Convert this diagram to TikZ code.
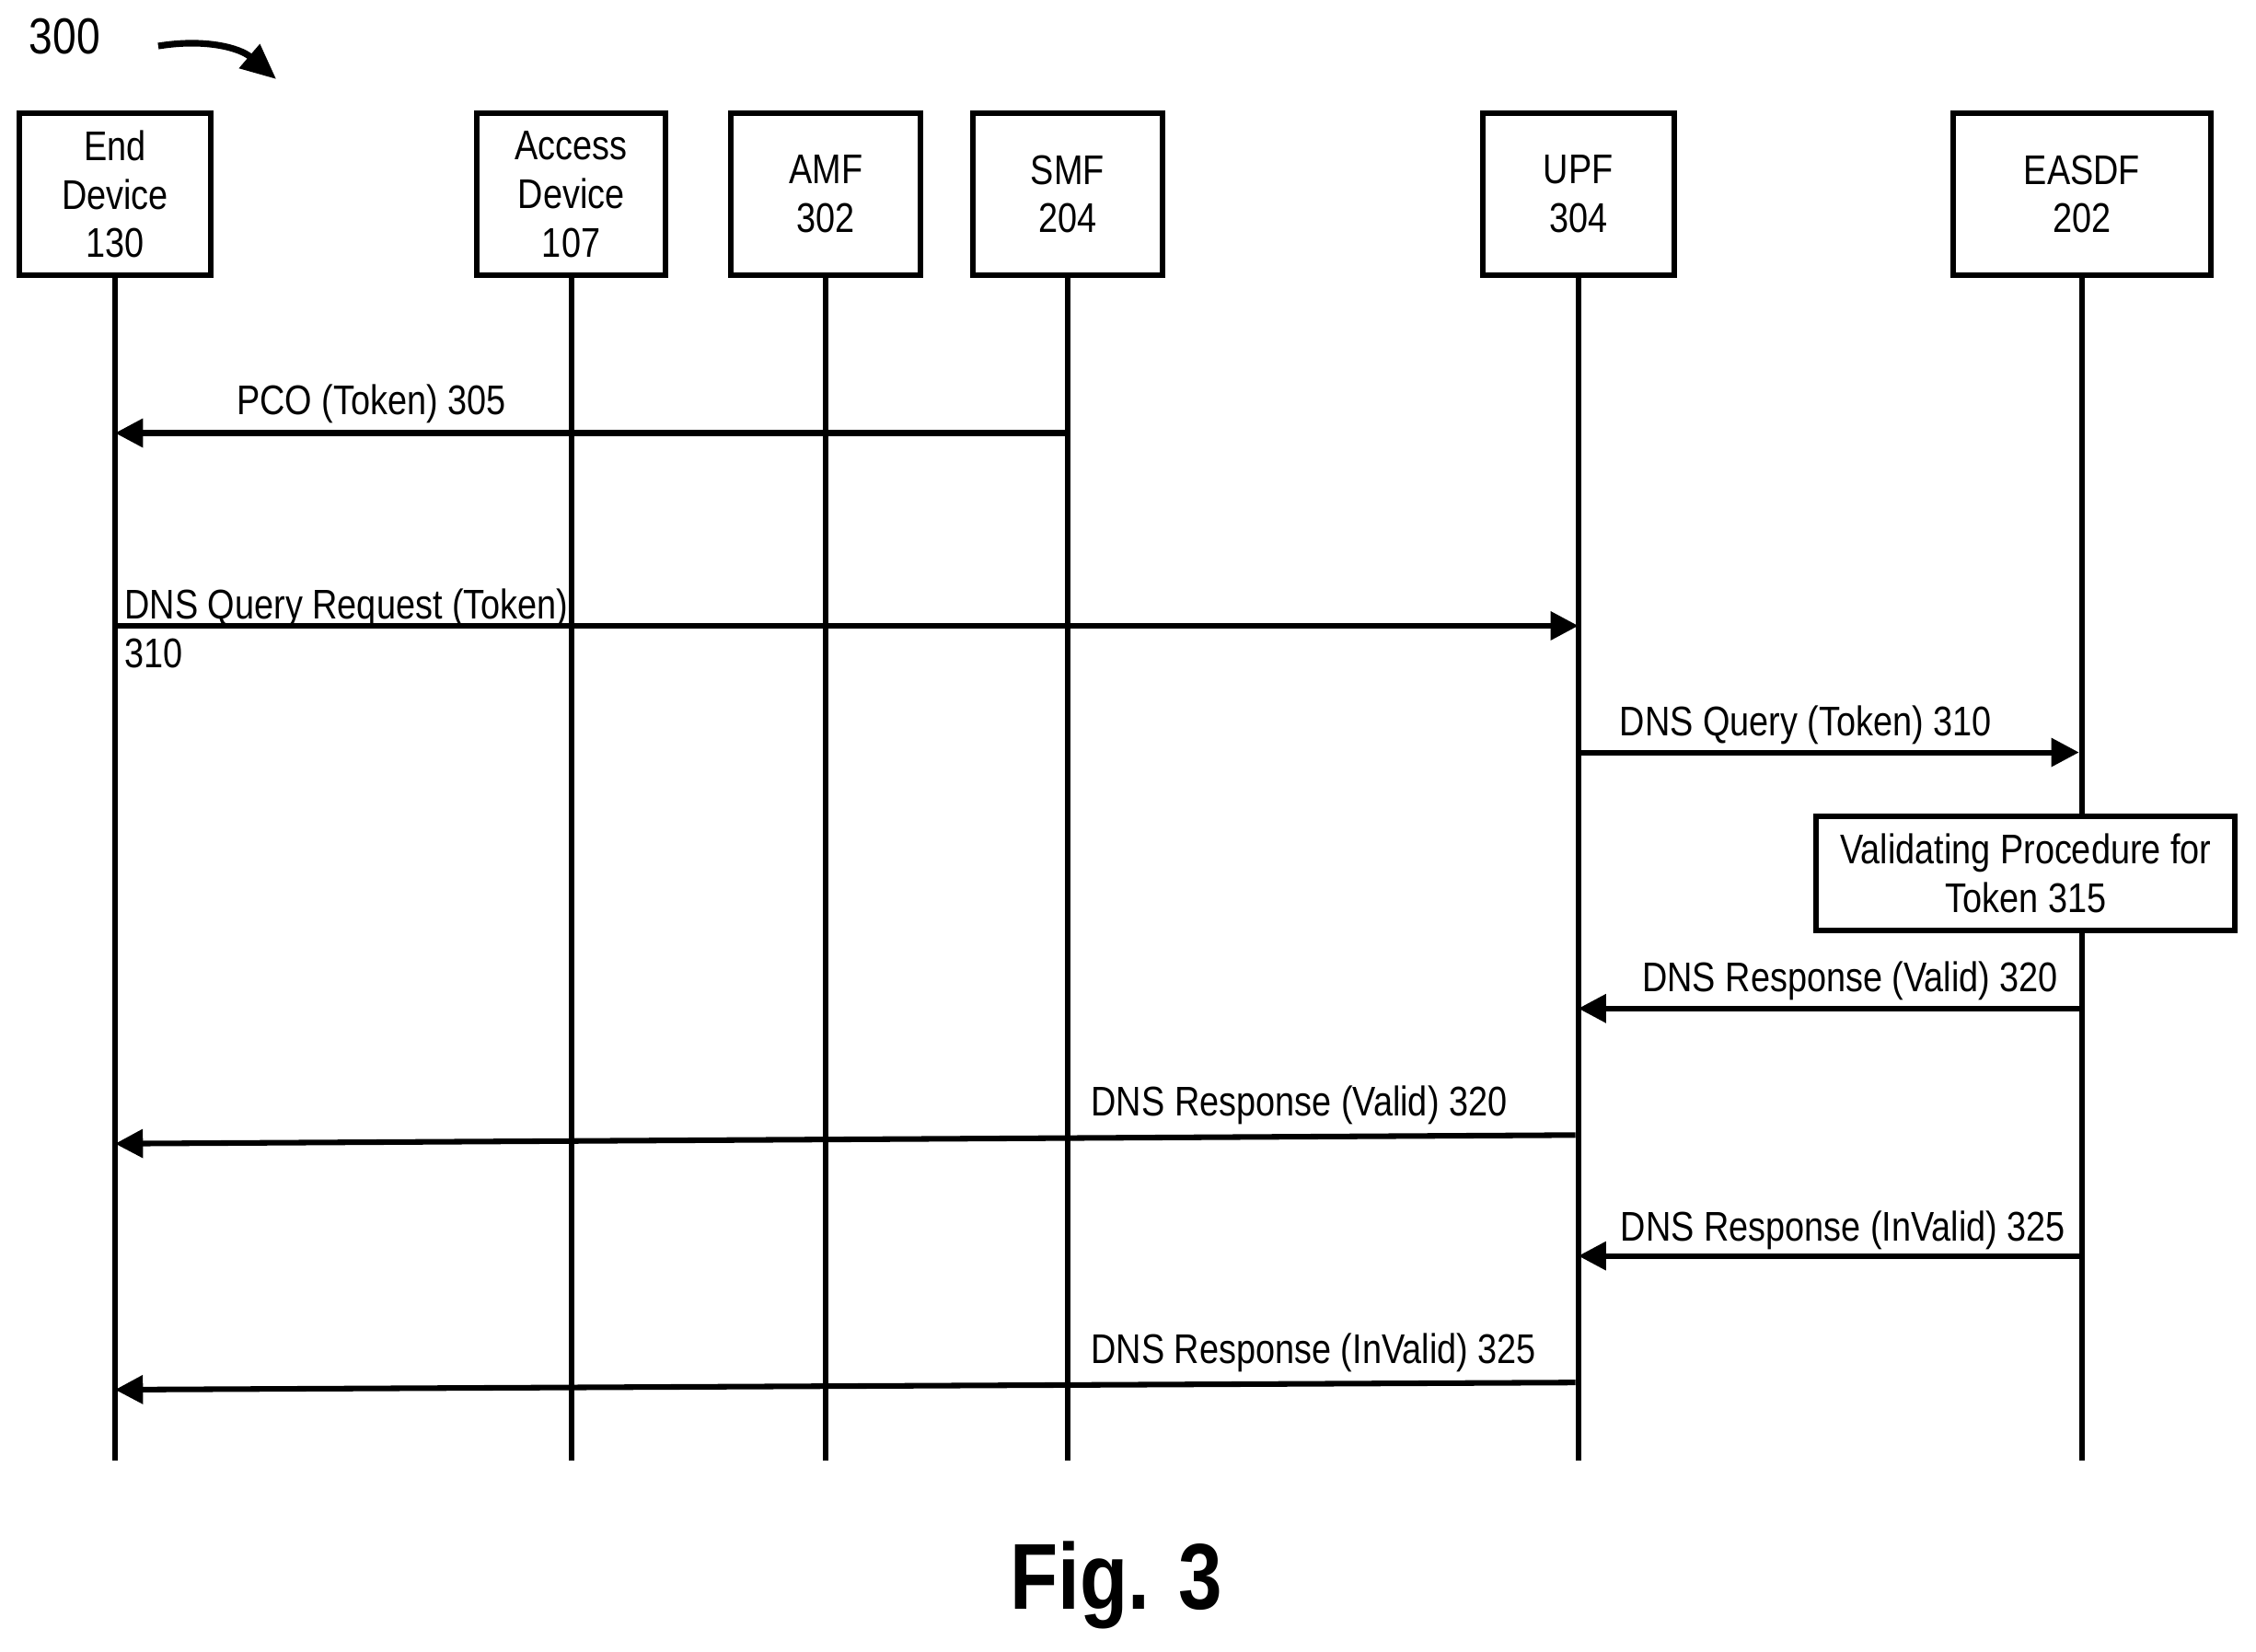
\documentclass[tikz,border=0pt]{standalone}
\usepackage{fontspec}
\setmainfont{Liberation Sans}[FakeStretch=0.84]
\usetikzlibrary{arrows.meta}
\begin{document}
\begin{tikzpicture}[x=0.01cm,y=-0.01cm,font=\fontsize{8.2}{9.6}\selectfont]
\tikzset{ent/.style={draw,line width=1.1pt,minimum height=1.12cm,align=center,inner sep=1pt},
  life/.style={line width=1.1pt},
  msg/.style={line width=1.1pt,-{Triangle[length=5.5pt,width=5.5pt]}},
  lab/.style={inner sep=0pt}}
\useasboundingbox (0,0) rectangle (1568,1148);
% entities
\node[ent,minimum width=1.33cm] (ed) at (80,135) {End\\Device\\130};
\node[ent,minimum width=1.31cm] (ad) at (397,135) {Access\\Device\\107};
\node[ent,minimum width=1.32cm] (amf) at (574,135) {AMF\\302};
\node[ent,minimum width=1.32cm] (smf) at (742,135) {SMF\\204};
\node[ent,minimum width=1.33cm] (upf) at (1097,135) {UPF\\304};
\node[ent,minimum width=1.79cm] (eas) at (1447,135) {EASDF\\202};
% lifelines
\foreach \n/\x in {ed/80,ad/397,amf/574,smf/742,upf/1097,eas/1447}{
  \coordinate (\n-end) at (\x,1015);
  \draw[life] (\n.south) -- (\n-end);
}
\node (num) at (45,25) {\fontsize{10}{12}\selectfont 300};
\coordinate (c1) at (110,32);
\coordinate (c2) at (192,55);
\draw[line width=1.3pt,-{Triangle[length=7pt,width=6pt]}] (c1) to[bend left=25] (c2);
% messages
\coordinate (m1a) at (742,301); \coordinate (m1b) at (80,301);
\draw[msg] (m1a) -- (m1b);
\node[lab] (l1) at (258,281) {PCO (Token) 305};
\coordinate (m2a) at (80,435); \coordinate (m2b) at (1097,435);
\draw[msg] (m2a) -- (m2b);
\node[lab,anchor=west,align=left] (l2) at (86,437) {DNS Query Request (Token)\\310};
\coordinate (m3a) at (1097,523); \coordinate (m3b) at (1445,523);
\draw[msg] (m3a) -- (m3b);
\node[lab] (l3) at (1255,504) {DNS Query (Token) 310};
\node[draw,fill=white,line width=1.1pt,minimum width=2.91cm,minimum height=0.79cm,align=center,inner sep=1pt] (val) at (1408,607) {Validating Procedure for\\Token 315};
\coordinate (m4a) at (1447,701); \coordinate (m4b) at (1097,701);
\draw[msg] (m4a) -- (m4b);
\node[lab] (l4) at (1286,682) {DNS Response (Valid) 320};
\coordinate (m5a) at (1095,789); \coordinate (m5b) at (80,795);
\draw[msg] (m5a) -- (m5b);
\node[lab] (l5) at (903,768) {DNS Response (Valid) 320};
\coordinate (m6a) at (1447,873); \coordinate (m6b) at (1097,873);
\draw[msg] (m6a) -- (m6b);
\node[lab] (l6) at (1281,855) {DNS Response (InValid) 325};
\coordinate (m7a) at (1095,961); \coordinate (m7b) at (80,966);
\draw[msg] (m7a) -- (m7b);
\node[lab] (l7) at (913,940) {DNS Response (InValid) 325};
\node[font=\fontsize{18.5}{22}\selectfont\bfseries] (fig) at (776,1102) {Fig. 3};
\end{tikzpicture}
\end{document}
